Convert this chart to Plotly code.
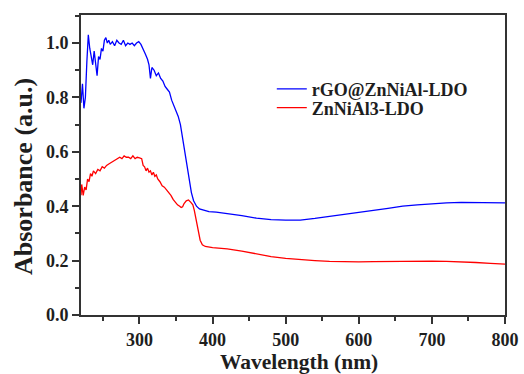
import plotly.graph_objects as go

blue_wl = [220, 222, 224, 226, 228, 230, 232, 234, 236, 238, 240, 242, 244, 246, 248, 250, 252, 254, 256, 258,
           260, 263, 266, 269, 272, 275, 278, 281, 284, 287, 290, 293, 296, 299, 302, 305, 308, 311, 313, 315,
           317, 320, 323, 326, 329, 332, 335, 338, 341, 344, 347, 350, 353, 356, 359, 362, 365, 368, 371, 374,
           378, 382, 388, 395, 405, 420, 440, 460, 480, 500, 520, 540, 560, 580, 600, 620, 640, 660, 680, 700,
           720, 740, 760, 780, 800]
blue_abs = [0.78, 0.85, 0.76, 0.80, 0.93, 1.03, 0.98, 0.94, 0.92, 0.97, 0.93, 0.88, 0.95, 0.94, 0.98, 0.97, 1.01, 1.02, 1.00, 1.01,
            0.995, 1.005, 0.99, 1.01, 1.0, 0.995, 1.01, 0.99, 1.0, 0.995, 1.0, 0.99, 1.0, 1.005, 0.995, 0.98, 0.96, 0.94, 0.92, 0.87,
            0.91, 0.90, 0.88, 0.89, 0.87, 0.86, 0.84, 0.83, 0.82, 0.79, 0.77, 0.75, 0.73, 0.70, 0.65, 0.59, 0.54, 0.49, 0.45, 0.42,
            0.40, 0.39, 0.385, 0.38, 0.378, 0.373, 0.365, 0.356, 0.351, 0.349, 0.349, 0.355, 0.363, 0.371, 0.378, 0.385, 0.392, 0.400, 0.405, 0.409,
            0.412, 0.414, 0.414, 0.413, 0.412]

red_wl = [220, 221, 223, 225, 227, 229, 231, 233, 235, 237, 240, 243, 246, 249, 252, 255, 258, 261, 264, 267,
          270, 273, 276, 279, 282, 285, 288, 291, 294, 297, 300, 303, 305, 307, 309, 311, 313, 315, 317, 319,
          321, 323, 325, 328, 331, 334, 337, 340, 343, 346, 349, 352, 355, 357, 359, 361, 364, 367, 370, 373,
          375, 377, 379, 381, 383, 386, 390, 400, 420, 440, 460, 480, 500, 520, 540, 560, 580, 600, 620, 640,
          660, 680, 700, 720, 740, 760, 780, 800]
red_abs = [0.44, 0.48, 0.44, 0.47, 0.46, 0.50, 0.49, 0.52, 0.51, 0.53, 0.52, 0.535, 0.53, 0.545, 0.54, 0.55, 0.555, 0.56, 0.565, 0.57,
           0.575, 0.58, 0.575, 0.585, 0.58, 0.58, 0.575, 0.585, 0.575, 0.58, 0.578, 0.575, 0.55, 0.545, 0.53, 0.54, 0.525, 0.53, 0.515, 0.525,
           0.51, 0.515, 0.50, 0.49, 0.475, 0.47, 0.46, 0.45, 0.44, 0.425, 0.415, 0.405, 0.40, 0.395, 0.398, 0.41, 0.42, 0.423, 0.415, 0.405,
           0.385, 0.36, 0.33, 0.30, 0.275, 0.258, 0.252, 0.248, 0.243, 0.235, 0.225, 0.215, 0.208, 0.203, 0.200, 0.197, 0.195, 0.195, 0.196, 0.197,
           0.198, 0.198, 0.198, 0.197, 0.196, 0.193, 0.190, 0.187]

series_names = ["rGO@ZnNiAl-LDO", "ZnNiAl3-LDO"]
x_title = "Wavelength (nm)"
y_title = "Absorbance (a.u.)"

serif = "Liberation Serif"
ink = "#1e1e1e"
fig = go.Figure()
fig.add_trace(go.Scatter(x=blue_wl, y=blue_abs, mode="lines", name=series_names[0], showlegend=True,
                         line=dict(color="#0000ff", width=1.3), legend="legend"))
fig.add_trace(go.Scatter(x=red_wl, y=red_abs, mode="lines", name=series_names[1], showlegend=True,
                         line=dict(color="#ff0000", width=1.3), legend="legend2"))

axis_common = dict(showline=True, linecolor="#333333", linewidth=2, mirror=True,
                   ticks="outside", ticklen=7, tickwidth=1.5, tickcolor="#333333",
                   showgrid=False, zeroline=False, automargin=False,
                   tickfont=dict(family=serif, size=18, color=ink, weight="bold"))

fig.update_xaxes(range=[220, 800], dtick=100, tick0=0,
                 minor=dict(dtick=50, ticks="outside", ticklen=4, tickcolor="#333333"),
                 **axis_common)
fig.update_yaxes(range=[0, 1.103], dtick=0.2, tick0=0, tickformat=".1f",
                 minor=dict(dtick=0.1, ticks="outside", ticklen=4, tickcolor="#333333"),
                 **axis_common)

fig.add_annotation(text=x_title, xref="paper", yref="paper", x=0.5, y=0,
                   xanchor="center", yanchor="middle", xshift=6, yshift=-47, showarrow=False,
                   font=dict(family=serif, size=21.5, color=ink, weight="bold"))
fig.add_annotation(text=y_title, xref="paper", yref="paper", x=0, y=0.5, textangle=-90,
                   xanchor="center", yanchor="middle", xshift=-58, yshift=-12, showarrow=False,
                   font=dict(family=serif, size=26, color=ink, weight="bold"))

legend_common = dict(x=0.45, xanchor="left", yanchor="middle", itemwidth=30,
                     font=dict(family=serif, size=18, color=ink, weight="bold"),
                     bgcolor="rgba(0,0,0,0)", visible=True)

fig.update_layout(
    width=524, height=374,
    margin=dict(l=81, r=19, t=15, b=59),
    plot_bgcolor="white", paper_bgcolor="white",
    showlegend=True,
    legend=dict(y=0.753, **legend_common),
    legend2=dict(y=0.69, **legend_common),
)

fig.write_html("out.html")
